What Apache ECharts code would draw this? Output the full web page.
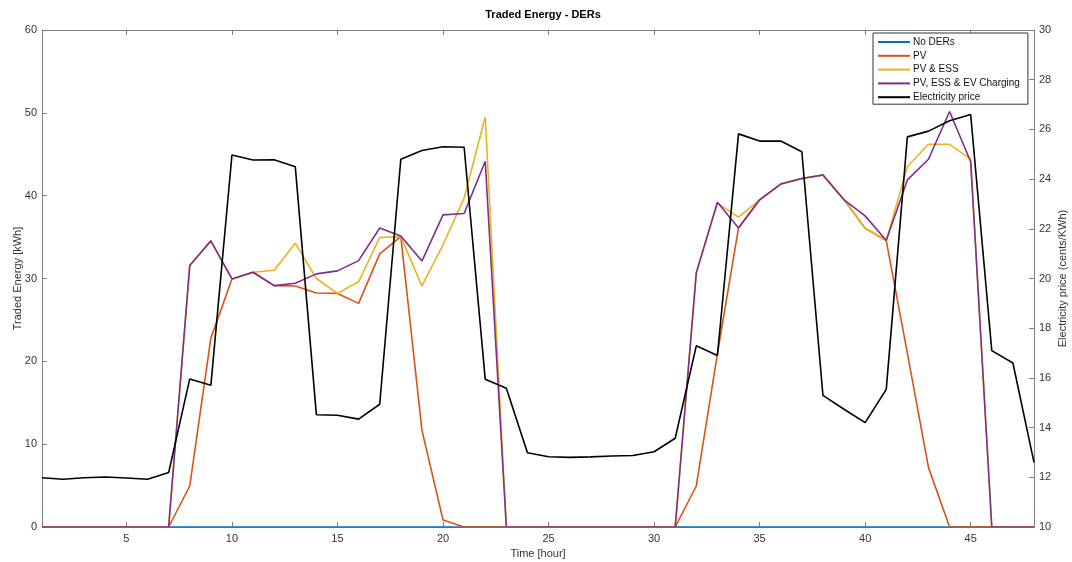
<!DOCTYPE html>
<html>
<head>
<meta charset="utf-8">
<script src="https://cdn.jsdelivr.net/npm/echarts@6/dist/echarts.min.js"></script>
<style>
html,body{margin:0;padding:0;background:#fff;}
#chart{width:1072px;height:562px;}
</style>
</head>
<body>
<div id="chart"></div>
<script>
// ---- data ----
const hours = [1,2,3,4,5,6,7,8,9,10,11,12,13,14,15,16,17,18,19,20,21,22,23,24,25,26,27,28,29,30,31,32,33,34,35,36,37,38,39,40,41,42,43,44,45,46,47,48];
const xTicks = [5,10,15,20,25,30,35,40,45];
const seriesNames = ['No DERs','PV','PV & ESS','PV, ESS & EV Charging','Electricity price'];
const noDERs = [0,0,0,0,0,0,0,0,0,0,0,0,0,0,0,0,0,0,0,0,0,0,0,0,0,0,0,0,0,0,0,0,0,0,0,0,0,0,0,0,0,0,0,0,0,0,0,0];
const pv = [0,0,0,0,0,0,0,4.95,22.8,29.95,30.76,29.14,29.1,28.25,28.2,27.0,32.97,35.06,11.7,0.85,0,0,0,0,0,0,0,0,0,0,0,4.95,20.9,36.1,39.5,41.4,42.07,42.5,39.5,36.07,34.58,21.0,7.2,0,0,0,0,0];
const pvEss = [0,0,0,0,0,0,0,31.56,34.54,29.95,30.76,31.0,34.26,30.0,28.2,29.6,34.95,35.06,29.1,34.06,39.7,49.5,0,0,0,0,0,0,0,0,0,30.7,39.1,37.4,39.5,41.4,42.07,42.5,39.5,36.07,34.58,43.5,46.2,46.2,44.4,0,0,0];
const pvEssEv = [0,0,0,0,0,0,0,31.56,34.54,29.95,30.76,29.14,29.43,30.56,30.92,32.16,36.1,35.14,32.1,37.68,37.84,44.16,0,0,0,0,0,0,0,0,0,30.7,39.2,36.1,39.5,41.4,42.07,42.5,39.5,37.56,34.58,41.9,44.4,50.16,44.1,0,0,0];
const price = [11.98,11.92,11.98,12.01,11.97,11.92,12.19,15.96,15.7,24.97,24.77,24.78,24.5,14.52,14.5,14.34,14.94,24.8,25.15,25.3,25.28,15.95,15.58,12.99,12.83,12.8,12.82,12.86,12.88,13.03,13.57,17.29,16.9,25.82,25.53,25.53,25.1,15.3,14.74,14.2,15.54,25.7,25.93,26.35,26.6,17.1,16.6,12.6];
const colors = ['#0072BD','#D95319','#EDB120','#7E2F8E','#000000'];

// ---- chart ----
const FONT = 'Liberation Sans, Arial, sans-serif';
const TXT = '#333333';
const LINE = '#808080';
const pairs = arr => hours.map((h, i) => [h, arr[i]]);
const allData = [noDERs, pv, pvEss, pvEssEv, price];

const chart = echarts.init(document.getElementById('chart'), null, {renderer: 'canvas'});
const option = {
  animation: false,
  backgroundColor: '#ffffff',
  title: {
    text: 'Traded Energy - DERs',
    left: 538, top: 4, textAlign: 'center',
    textStyle: {fontFamily: FONT, fontSize: 11, fontWeight: 'bold', color: '#000'}
  },
  legend: {
    data: seriesNames.map(n => ({name: n, icon: 'rect'})),
    orient: 'vertical',
    left: 873, top: 33,
    padding: [3, 8, 1, 5],
    itemGap: 1.8,
    itemWidth: 32, itemHeight: 2,
    backgroundColor: '#fff',
    borderColor: '#333', borderWidth: 1,
    textStyle: {fontFamily: FONT, fontSize: 10, color: '#111', lineHeight: 12, padding: [0,0,0,-2]}
  },
  grid: {left: 42, right: 38, top: 30, bottom: 35, containLabel: false, outerBoundsMode: 'none'},
  xAxis: [{
    type: 'value', min: 1, max: 48, position: 'bottom',
    name: 'Time [hour]', nameLocation: 'middle', nameGap: 21,
    nameTextStyle: {fontFamily: FONT, fontSize: 11, color: TXT},
    axisLine: {show: true, onZero: false, lineStyle: {color: LINE, width: 1}},
    axisTick: {show: true, inside: true, length: 5, customValues: xTicks, lineStyle: {color: LINE}},
    axisLabel: {customValues: xTicks, fontFamily: FONT, fontSize: 11, color: TXT, margin: 6},
    splitLine: {show: false}
  }, {
    type: 'value', min: 1, max: 48, position: 'top',
    axisLine: {show: true, onZero: false, lineStyle: {color: LINE, width: 1}},
    axisTick: {show: true, inside: true, length: 5, customValues: xTicks, lineStyle: {color: LINE}},
    axisLabel: {show: false},
    splitLine: {show: false}
  }],
  yAxis: [{
    type: 'value', min: 0, max: 60, interval: 10, position: 'left',
    name: 'Traded Energy [kWh]', nameLocation: 'middle', nameGap: 19, nameRotate: 90,
    nameMoveOverlap: false,
    nameTextStyle: {fontFamily: FONT, fontSize: 11, color: TXT},
    axisLine: {show: true, onZero: false, lineStyle: {color: LINE, width: 1}},
    axisTick: {show: true, inside: true, length: 5, lineStyle: {color: LINE}},
    axisLabel: {fontFamily: FONT, fontSize: 11, color: TXT, margin: 5},
    splitLine: {show: false}
  }, {
    type: 'value', min: 10, max: 30, interval: 2, position: 'right',
    name: 'Electricity price (cents/KWh)', nameLocation: 'middle', nameGap: 23, nameRotate: 90,
    nameMoveOverlap: false,
    nameTextStyle: {fontFamily: FONT, fontSize: 11, color: TXT},
    axisLine: {show: true, onZero: false, lineStyle: {color: LINE, width: 1}},
    axisTick: {show: true, inside: true, length: 5, lineStyle: {color: LINE}},
    axisLabel: {fontFamily: FONT, fontSize: 11, color: TXT, margin: 5},
    splitLine: {show: false}
  }],
  series: seriesNames.map((name, i) => ({
    name: name,
    type: 'line',
    xAxisIndex: 0,
    yAxisIndex: i === 4 ? 1 : 0,
    data: pairs(allData[i]),
    symbol: 'none',
    showSymbol: false,
    color: colors[i],
    lineStyle: {color: colors[i], width: 1.6},
    z: 2 + i
  }))
};
chart.setOption(option);
</script>
</body>
</html>
